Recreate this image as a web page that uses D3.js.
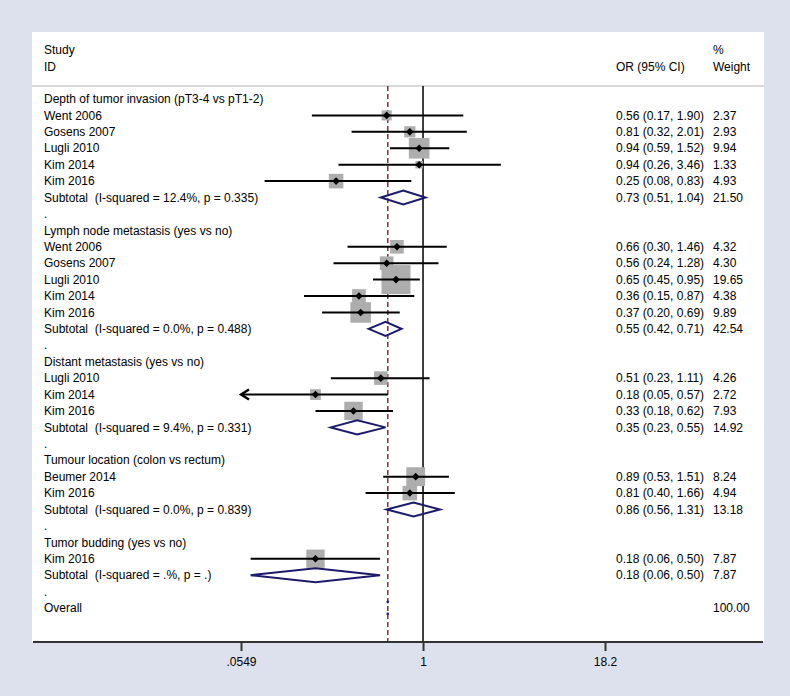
<!DOCTYPE html>
<html>
<head>
<meta charset="utf-8">
<script src="https://cdn.jsdelivr.net/npm/d3@7"></script>
<style>
  html, body { margin: 0; padding: 0; background: #dde1ee; }
  svg { display: block; }
  text { font-family: "Liberation Sans", Arial, Helvetica, sans-serif; font-size: 12px; fill: #000; white-space: pre; }
</style>
</head>
<body>
<div id="chart"></div>
<script>
// ---------------- data ----------------
const rowLabels = [
  "Depth of tumor invasion (pT3-4 vs pT1-2)",
  "Went 2006", "Gosens 2007", "Lugli 2010", "Kim 2014", "Kim 2016",
  "Subtotal  (I-squared = 12.4%, p = 0.335)", ".",
  "Lymph node metastasis (yes vs no)",
  "Went 2006", "Gosens 2007", "Lugli 2010", "Kim 2014", "Kim 2016",
  "Subtotal  (I-squared = 0.0%, p = 0.488)", ".",
  "Distant metastasis (yes vs no)",
  "Lugli 2010", "Kim 2014", "Kim 2016",
  "Subtotal  (I-squared = 9.4%, p = 0.331)", ".",
  "Tumour location (colon vs rectum)",
  "Beumer 2014", "Kim 2016",
  "Subtotal  (I-squared = 0.0%, p = 0.839)", ".",
  "Tumor budding (yes vs no)",
  "Kim 2016",
  "Subtotal  (I-squared = .%, p = .)", ".",
  "Overall"
];
// h = group heading, s = study, t = subtotal, b = blank, o = overall
const rowTypes = ["h","s","s","s","s","s","t","b",
                  "h","s","s","s","s","s","t","b",
                  "h","s","s","s","t","b",
                  "h","s","s","t","b",
                  "h","s","t","b","o"];
const orValues = [null,0.56,0.81,0.94,0.94,0.25,0.73,null,
                  null,0.66,0.56,0.65,0.36,0.37,0.55,null,
                  null,0.51,0.18,0.33,0.35,null,
                  null,0.89,0.81,0.86,null,
                  null,0.18,0.18,null,null];
const lowerCI = [null,0.17,0.32,0.59,0.26,0.08,0.51,null,
                 null,0.30,0.24,0.45,0.15,0.20,0.42,null,
                 null,0.23,0.05,0.18,0.23,null,
                 null,0.53,0.40,0.56,null,
                 null,0.064,0.064,null,null];
const upperCI = [null,1.90,2.01,1.52,3.46,0.83,1.04,null,
                 null,1.46,1.28,0.95,0.87,0.69,0.71,null,
                 null,1.11,0.57,0.62,0.55,null,
                 null,1.51,1.66,1.31,null,
                 null,0.504,0.504,null,null];
const weights = [null,2.37,2.93,9.94,1.33,4.93,21.50,null,
                 null,4.32,4.30,19.65,4.38,9.89,42.54,null,
                 null,4.26,2.72,7.93,14.92,null,
                 null,8.24,4.94,13.18,null,
                 null,7.87,7.87,null,100.00];
const overallOR = 0.57;
const tickValues = [0.0549, 1, 18.2];
const tickLabels = [".0549", "1", "18.2"];

// ---------------- layout ----------------
const W = 790, H = 696;
const plot = {left: 32, right: 764, top: 32, bottom: 642};
const sepY = 86;

const svg = d3.select("#chart").append("svg").attr("width", W).attr("height", H);

svg.append("rect").attr("x", plot.left).attr("y", plot.top)
  .attr("width", plot.right - plot.left).attr("height", plot.bottom - plot.top)
  .attr("fill", "#ffffff");

const x = d3.scaleLog().domain([0.0549, 18.2]).range([241, 605]);
const y = d3.scaleLinear().domain([0, rowLabels.length - 1]).range([99, 608]);
const sq = d3.scaleSqrt().domain([0, 19.65]).range([0, 29]);

const colStudy = 44, colOR = 616, colW = 713;

// header
const hdr = svg.append("g");
hdr.append("text").attr("x", colStudy).attr("y", 50).attr("dy", "0.35em").text("Study");
hdr.append("text").attr("x", colStudy).attr("y", 67).attr("dy", "0.35em").text("ID");
hdr.append("text").attr("x", colOR).attr("y", 67).attr("dy", "0.35em").text("OR (95% CI)");
hdr.append("text").attr("x", colW).attr("y", 50).attr("dy", "0.35em").text("%");
hdr.append("text").attr("x", colW).attr("y", 67).attr("dy", "0.35em").text("Weight");

svg.append("line").attr("x1", plot.left).attr("x2", plot.right)
  .attr("y1", sepY).attr("y2", sepY).attr("stroke", "#b4b4b4").attr("stroke-width", 1);

// reference lines
svg.append("line").attr("x1", x(1)).attr("x2", x(1)).attr("y1", sepY).attr("y2", plot.bottom)
  .attr("stroke", "#000").attr("stroke-width", 1.5);
svg.append("line").attr("x1", x(overallOR)).attr("x2", x(overallOR)).attr("y1", sepY).attr("y2", plot.bottom)
  .attr("stroke", "#8c2a35").attr("stroke-width", 1.5).attr("stroke-dasharray", "5,3");

const rows = rowLabels.map((label, i) => ({
  i, label, type: rowTypes[i], or: orValues[i], lo: lowerCI[i], hi: upperCI[i], w: weights[i]
}));

// labels
svg.append("g").selectAll("text").data(rows).join("text")
  .attr("x", colStudy).attr("y", d => y(d.i)).attr("dy", "0.35em")
  .attr("xml:space", "preserve").text(d => d.label);

const fmt = d3.format(".2f");
svg.append("g").selectAll("text").data(rows.filter(d => d.or != null)).join("text")
  .attr("x", colOR).attr("y", d => y(d.i)).attr("dy", "0.35em")
  .text(d => `${fmt(d.or)} (${fmt(d.lo)}, ${fmt(d.hi)})`);
svg.append("g").selectAll("text").data(rows.filter(d => d.w != null)).join("text")
  .attr("x", colW).attr("y", d => y(d.i)).attr("dy", "0.35em").text(d => fmt(d.w));

// studies
const studies = rows.filter(d => d.type === "s");
const [xmin, xmax] = x.domain();
svg.append("g").selectAll("rect").data(studies).join("rect")
  .attr("x", d => x(d.or) - sq(d.w) / 2).attr("y", d => y(d.i) - sq(d.w) / 2)
  .attr("width", d => sq(d.w)).attr("height", d => sq(d.w))
  .attr("fill", "#adadad");
svg.append("g").selectAll("line").data(studies).join("line")
  .attr("x1", d => x(Math.max(d.lo, xmin))).attr("x2", d => x(Math.min(d.hi, xmax)))
  .attr("y1", d => y(d.i)).attr("y2", d => y(d.i))
  .attr("stroke", "#000").attr("stroke-width", 2);
// arrows for clipped CIs
svg.append("g").selectAll("path").data(studies.filter(d => d.lo < xmin)).join("path")
  .attr("d", d => {
    const px = x(xmin), py = y(d.i);
    return `M${px + 8},${py - 5} L${px},${py} L${px + 8},${py + 5}`;
  })
  .attr("fill", "none").attr("stroke", "#000").attr("stroke-width", 2.4);
svg.append("g").selectAll("path").data(studies).join("path")
  .attr("d", d => {
    const px = x(d.or), py = y(d.i), r = 3.8;
    return `M${px - r},${py} L${px},${py - r} L${px + r},${py} L${px},${py + r} Z`;
  })
  .attr("fill", "#000");

// subtotal diamonds
const subs = rows.filter(d => d.type === "t");
svg.append("g").selectAll("path").data(subs).join("path")
  .attr("d", d => {
    const py = y(d.i), h = 7;
    return `M${x(d.lo)},${py} L${x(d.or)},${py - h} L${x(d.hi)},${py} L${x(d.or)},${py + h} Z`;
  })
  .attr("fill", "none").attr("stroke", "#1c1a6b").attr("stroke-width", 2);

// overall (degenerate diamond: only tips visible)
const ov = rows.find(d => d.type === "o");
svg.append("g").selectAll("circle").data([-6, 6]).join("circle")
  .attr("cx", x(overallOR)).attr("cy", d => y(ov.i) + d).attr("r", 1.4)
  .attr("fill", "#2a2a80");

// axis
svg.append("line").attr("x1", plot.left + 1).attr("x2", plot.right - 1)
  .attr("y1", plot.bottom).attr("y2", plot.bottom)
  .attr("stroke", "#333").attr("stroke-width", 2);
const axis = d3.axisBottom(x).tickValues(tickValues)
  .tickFormat((d, i) => tickLabels[i]).tickSize(9).tickPadding(6);
const ag = svg.append("g").attr("transform", `translate(0,${plot.bottom})`).call(axis);
ag.select(".domain").remove();
ag.selectAll(".tick line").attr("stroke", "#333").attr("stroke-width", 2);
ag.selectAll(".tick text").style("font-family", "'Liberation Sans', Arial, sans-serif")
  .style("font-size", "12px").attr("fill", "#000");
</script>
</body>
</html>
